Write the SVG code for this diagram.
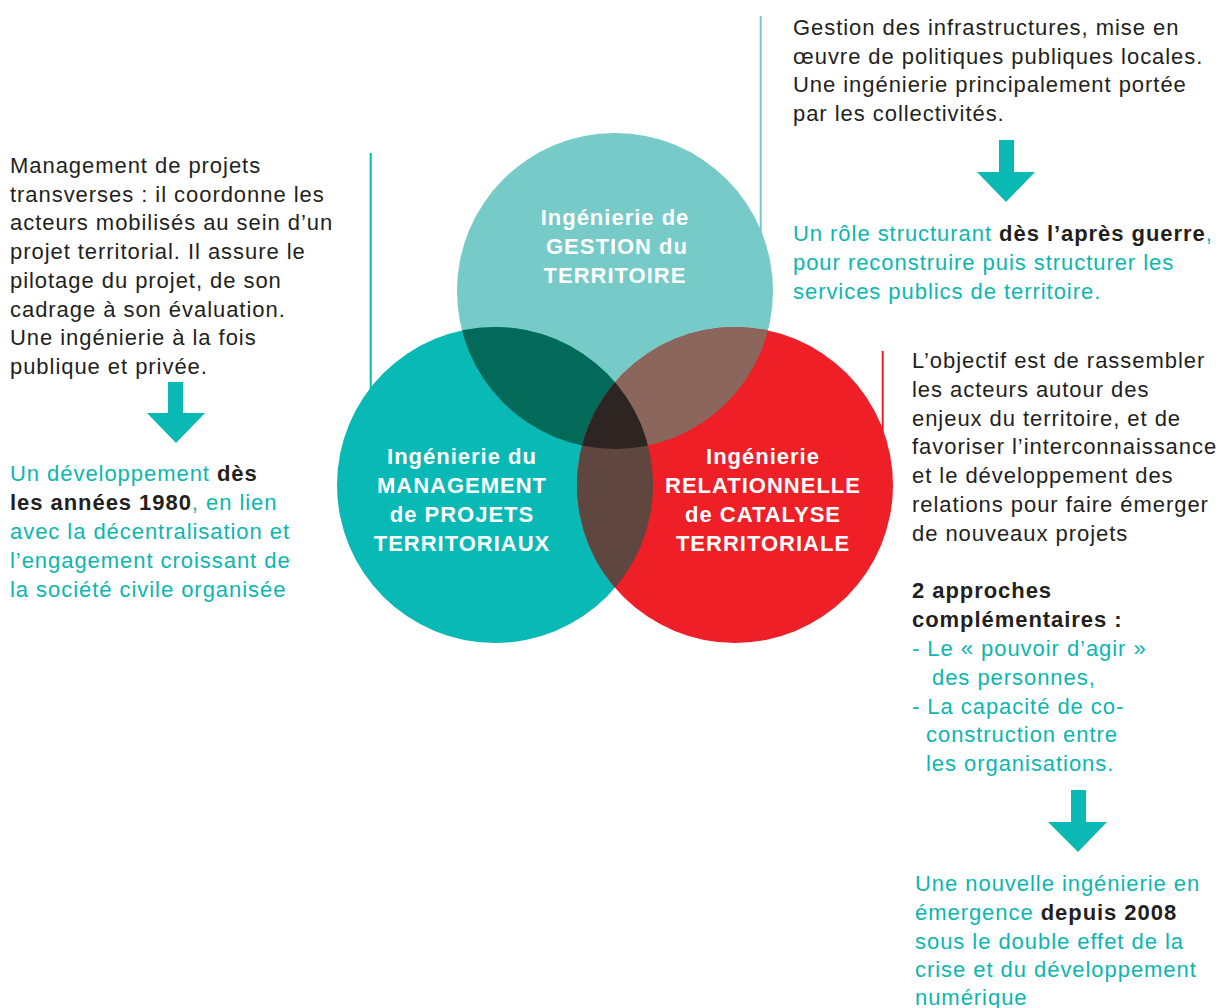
<svg xmlns="http://www.w3.org/2000/svg" width="1222" height="1008" viewBox="0 0 1222 1008">
<style>
  .t{font-family:"Liberation Sans",Arial,sans-serif;font-size:22px;fill:#231F20;letter-spacing:0.95px}
  .teal{fill:#0CB6B1}
  .b{font-weight:bold;fill:#231F20}
  .c{font-family:"Liberation Sans",Arial,sans-serif;font-size:22px;font-weight:bold;fill:#FFFFFF;text-anchor:middle;letter-spacing:1px}
  .arrow{fill:#0AB8B4}
</style>
<defs>
  <clipPath id="clipT"><circle cx="615" cy="291" r="158"/></clipPath>
  <clipPath id="clipL"><circle cx="495" cy="485" r="158"/></clipPath>
  <clipPath id="clipR"><circle cx="735" cy="485" r="158"/></clipPath>
</defs>
<rect width="1222" height="1008" fill="#FFFFFF"/>

<g id="connectors">
  <line x1="370.7" y1="153" x2="370.7" y2="420" stroke="#0AB8B4" stroke-width="2"/>
  <line x1="760.7" y1="16" x2="760.7" y2="260" stroke="#76CAC8" stroke-width="2"/>
  <line x1="882.7" y1="351" x2="882.7" y2="450" stroke="#EE1F26" stroke-width="2"/>
  <path class="arrow" d="M168 382 H183 V413 H205 L176 443 L147 413 H168 Z"/>
  <path class="arrow" d="M999 140 H1014 V172 H1035 L1006 202 L977 172 H999 Z"/>
  <path class="arrow" d="M1071 790 H1086 V822 H1107 L1078 852 L1048 822 H1071 Z"/>
</g>

<g id="venn">
  <circle cx="615" cy="291" r="158" fill="#76CAC8"/>
  <circle cx="495" cy="485" r="158" fill="#08B9B5"/>
  <circle cx="735" cy="485" r="158" fill="#EE1F26"/>
  <circle cx="615" cy="291" r="158" fill="#036958" clip-path="url(#clipL)"/>
  <circle cx="615" cy="291" r="158" fill="#8A665C" clip-path="url(#clipR)"/>
  <circle cx="495" cy="485" r="158" fill="#5F473F" clip-path="url(#clipR)"/>
  <g clip-path="url(#clipL)">
    <circle cx="615" cy="291" r="158" fill="#2E2421" clip-path="url(#clipR)"/>
  </g>
</g>

<g id="node-gestion">
  <text class="c" x="615" y="225">Ingénierie de</text>
  <text class="c" x="617" y="254">GESTION du</text>
  <text class="c" x="615" y="283">TERRITOIRE</text>
</g>
<g id="node-management">
  <text class="c" x="462" y="464">Ingénierie du</text>
  <text class="c" x="462" y="493">MANAGEMENT</text>
  <text class="c" x="462" y="522">de PROJETS</text>
  <text class="c" x="462" y="551">TERRITORIAUX</text>
</g>
<g id="node-relationnelle">
  <text class="c" x="763" y="464">Ingénierie</text>
  <text class="c" x="763" y="493">RELATIONNELLE</text>
  <text class="c" x="763" y="522">de CATALYSE</text>
  <text class="c" x="763" y="551">TERRITORIALE</text>
</g>

<g id="text-left">
  <text class="t" x="10" y="173">Management de projets</text>
  <text class="t" x="10" y="202">transverses : il coordonne les</text>
  <text class="t" x="10" y="230">acteurs mobilisés au sein d’un</text>
  <text class="t" x="10" y="259">projet territorial. Il assure le</text>
  <text class="t" x="10" y="288">pilotage du projet, de son</text>
  <text class="t" x="10" y="317">cadrage à son évaluation.</text>
  <text class="t" x="10" y="345">Une ingénierie à la fois</text>
  <text class="t" x="10" y="374">publique et privée.</text>
  <text class="t teal" x="10" y="481">Un développement <tspan class="b">dès</tspan></text>
  <text class="t teal" x="10" y="510"><tspan class="b">les années 1980</tspan>, en lien</text>
  <text class="t teal" x="10" y="539">avec la décentralisation et</text>
  <text class="t teal" x="10" y="568">l’engagement croissant de</text>
  <text class="t teal" x="10" y="597">la société civile organisée</text>
</g>

<g id="text-top">
  <text class="t" x="793" y="35">Gestion des infrastructures, mise en</text>
  <text class="t" x="793" y="64">œuvre de politiques publiques locales.</text>
  <text class="t" x="793" y="92">Une ingénierie principalement portée</text>
  <text class="t" x="793" y="121">par les collectivités.</text>
  <text class="t teal" x="793" y="241">Un rôle structurant <tspan class="b">dès l’après guerre</tspan>,</text>
  <text class="t teal" x="793" y="270">pour reconstruire puis structurer les</text>
  <text class="t teal" x="793" y="299">services publics de territoire.</text>
</g>

<g id="text-right">
  <text class="t" x="912" y="368">L’objectif est de rassembler</text>
  <text class="t" x="912" y="397">les acteurs autour des</text>
  <text class="t" x="912" y="426">enjeux du territoire, et de</text>
  <text class="t" x="912" y="454">favoriser l’interconnaissance</text>
  <text class="t" x="912" y="483">et le développement des</text>
  <text class="t" x="912" y="512">relations pour faire émerger</text>
  <text class="t" x="912" y="541">de nouveaux projets</text>
  <text class="t b" x="912" y="598">2 approches</text>
  <text class="t b" x="912" y="627">complémentaires :</text>
  <text class="t teal" x="912" y="656">- Le « pouvoir d’agir »</text>
  <text class="t teal" x="932" y="685">des personnes,</text>
  <text class="t teal" x="912" y="714">- La capacité de co-</text>
  <text class="t teal" x="926" y="742">construction entre</text>
  <text class="t teal" x="926" y="771">les organisations.</text>
  <text class="t teal" x="915" y="891">Une nouvelle ingénierie en</text>
  <text class="t teal" x="915" y="920">émergence <tspan class="b">depuis 2008</tspan></text>
  <text class="t teal" x="915" y="949">sous le double effet de la</text>
  <text class="t teal" x="915" y="977">crise et du développement</text>
  <text class="t teal" x="915" y="1005">numérique</text>
</g>
</svg>
